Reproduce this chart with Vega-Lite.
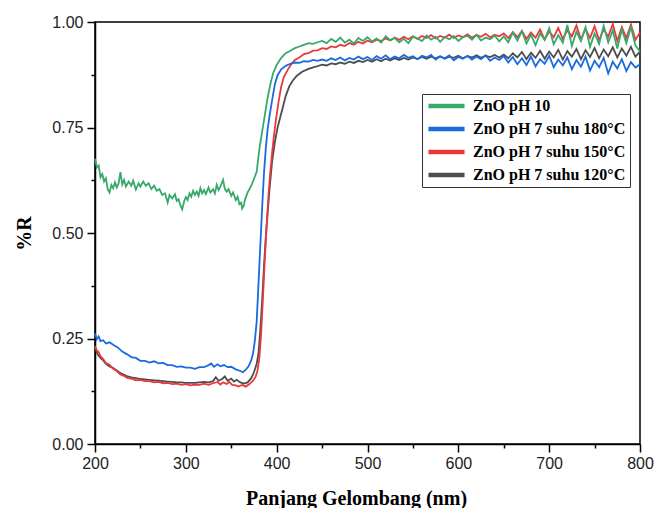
{
  "$schema": "https://vega.github.io/schema/vega-lite/v6.json",
  "width": 545,
  "height": 422,
  "autosize": {"type": "none"},
  "padding": {"left": 95, "top": 22, "right": 15, "bottom": 64},
  "config": {
    "view": {"stroke": "#000", "strokeWidth": 1.5},
    "axis": {
      "grid": false,
      "labelFlush": false,
      "labelFont": "Liberation Sans",
      "labelFontSize": 16,
      "labelColor": "#222",
      "titleFont": "Liberation Serif",
      "titleFontWeight": "bold",
      "titleFontSize": 20,
      "titleColor": "#000"
    },
    "legend": {
      "orient": "none",
      "legendX": 327,
      "legendY": 72,
      "strokeColor": "#333",
      "strokeWidth": 1,
      "fillColor": "#fff",
      "padding": 4,
      "clipHeight": 16,
      "rowPadding": 7,
      "labelOffset": 6,
      "labelFont": "Liberation Serif",
      "labelFontWeight": "bold",
      "labelFontSize": 16,
      "labelColor": "#000",
      "labelLimit": 300
    }
  },
  "encoding": {
    "x": {"field": "w", "type": "quantitative",
      "scale": {"domain": [200, 800], "nice": false},
      "axis": {"values": [200, 250, 300, 350, 400, 450, 500, 550, 600, 650, 700, 750, 800],
        "ticks": true,
        "domainColor": "#000", "domainWidth": 1.5, "tickColor": "#000", "tickWidth": 1.5, "tickOpacity": 1,
        "tickSize": {"condition": {"test": "datum.value % 100 === 0", "value": 8}, "value": 4},
        "labelExpr": "datum.value % 100 === 0 ? datum.label : ''",
        "labelPadding": 3,
        "encode": {"ticks": {"update": {"stroke": {"value": "#000"}, "strokeWidth": {"value": 1.5}, "strokeOpacity": {"value": 1}}}},
        "title": "Panjang Gelombang (nm)", "titleBaseline": "alphabetic", "titleY": 60, "titleX": 261}},
    "y": {"field": "r", "type": "quantitative",
      "scale": {"domain": [0, 1], "nice": false},
      "axis": {"values": [0, 0.125, 0.25, 0.375, 0.5, 0.625, 0.75, 0.875, 1], "format": ".2f",
        "ticks": true,
        "domainColor": "#000", "domainWidth": 1.5, "tickColor": "#000", "tickWidth": 1.5, "tickOpacity": 1,
        "tickSize": {"condition": {"test": "(datum.value * 4) % 1 === 0", "value": 8}, "value": 4},
        "labelExpr": "(datum.value * 4) % 1 === 0 ? datum.label : ''",
        "labelPadding": 4,
        "encode": {"ticks": {"update": {"stroke": {"value": "#000"}, "strokeWidth": {"value": 1.5}, "strokeOpacity": {"value": 1}}}},
        "title": "%R", "titleBaseline": "alphabetic", "titleX": -65}}
  },
  "layer": [
    {
      "data": {"values": [
        {"w":200,"r":0.228},{"w":203,"r":0.212},{"w":206,"r":0.204},{"w":209,"r":0.198},{"w":212,"r":0.190},{"w":216,"r":0.184},{"w":220,"r":0.180},{"w":224,"r":0.174},{"w":228,"r":0.168},{"w":232,"r":0.164},{"w":236,"r":0.160},{"w":240,"r":0.158},{"w":245,"r":0.156},{"w":250,"r":0.154},{"w":255,"r":0.153},{"w":260,"r":0.152},{"w":265,"r":0.151},{"w":270,"r":0.150},{"w":275,"r":0.149},{"w":280,"r":0.148},{"w":285,"r":0.147},{"w":290,"r":0.146},{"w":295,"r":0.146},{"w":300,"r":0.145},{"w":305,"r":0.145},{"w":310,"r":0.145},{"w":315,"r":0.146},{"w":320,"r":0.147},{"w":325,"r":0.146},{"w":330,"r":0.149},{"w":333,"r":0.158},{"w":336,"r":0.150},{"w":340,"r":0.154},{"w":343,"r":0.160},{"w":346,"r":0.150},{"w":350,"r":0.155},{"w":353,"r":0.148},{"w":356,"r":0.152},{"w":360,"r":0.146},{"w":364,"r":0.143},{"w":368,"r":0.146},{"w":372,"r":0.156},{"w":375,"r":0.170},{"w":378,"r":0.190},{"w":380,"r":0.215},{"w":382,"r":0.270},{"w":384,"r":0.340},{"w":386,"r":0.420},{"w":388,"r":0.490},{"w":390,"r":0.545},{"w":392,"r":0.600},{"w":395,"r":0.670},{"w":398,"r":0.715},{"w":401,"r":0.750},{"w":404,"r":0.775},{"w":407,"r":0.800},{"w":410,"r":0.825},{"w":414,"r":0.848},{"w":418,"r":0.862},{"w":422,"r":0.872},{"w":428,"r":0.882},{"w":435,"r":0.889},{"w":443,"r":0.894},
        {"w":450,"r":0.899},{"w":455,"r":0.897},{"w":460,"r":0.902},{"w":465,"r":0.900},{"w":470,"r":0.904},{"w":475,"r":0.901},{"w":480,"r":0.906},{"w":485,"r":0.903},{"w":490,"r":0.908},{"w":495,"r":0.905},{"w":500,"r":0.910},{"w":505,"r":0.906},{"w":510,"r":0.912},{"w":515,"r":0.907},{"w":520,"r":0.913},{"w":525,"r":0.909},{"w":530,"r":0.914},{"w":535,"r":0.910},{"w":540,"r":0.915},{"w":545,"r":0.911},{"w":550,"r":0.916},{"w":555,"r":0.912},{"w":560,"r":0.917},{"w":565,"r":0.913},{"w":570,"r":0.918},{"w":575,"r":0.914},{"w":580,"r":0.919},{"w":585,"r":0.913},{"w":590,"r":0.918},{"w":595,"r":0.915},{"w":600,"r":0.920},{"w":605,"r":0.914},{"w":610,"r":0.919},{"w":615,"r":0.916},{"w":620,"r":0.921},{"w":625,"r":0.915},{"w":630,"r":0.920},{"w":635,"r":0.917},{"w":640,"r":0.922},{"w":645,"r":0.916},{"w":650,"r":0.923},{"w":655,"r":0.914},{"w":660,"r":0.926},{"w":665,"r":0.916},{"w":670,"r":0.929},{"w":675,"r":0.912},{"w":680,"r":0.927},{"w":685,"r":0.915},{"w":690,"r":0.932},{"w":695,"r":0.913},{"w":700,"r":0.930},{"w":705,"r":0.916},{"w":710,"r":0.934},{"w":715,"r":0.911},{"w":720,"r":0.931},{"w":725,"r":0.918},{"w":730,"r":0.936},{"w":735,"r":0.912},{"w":740,"r":0.933},{"w":745,"r":0.917},{"w":750,"r":0.938},{"w":755,"r":0.914},{"w":760,"r":0.935},{"w":765,"r":0.919},{"w":770,"r":0.940},{"w":775,"r":0.916},{"w":780,"r":0.937},{"w":785,"r":0.920},{"w":790,"r":0.941},{"w":795,"r":0.918},{"w":800,"r":0.930}
      ]},
      "mark": {"type": "line", "strokeWidth": 1.8},
      "encoding": {
        "color": {"datum": "ZnO pH 7 suhu 120°C", "type": "nominal",
          "scale": {"domain": ["ZnO pH 10", "ZnO pH 7 suhu 180°C", "ZnO pH 7 suhu 150°C", "ZnO pH 7 suhu 120°C"],
                    "range": ["#38a96a", "#1a6be0", "#e8393c", "#4d4d4d"]},
          "legend": {"title": null, "symbolStrokeWidth": 4.5, "symbolType": "stroke", "symbolSize": 1300}}
      }
    },
    {
      "data": {"values": [
        {"w":200,"r":0.232},{"w":202,"r":0.222},{"w":204,"r":0.218},{"w":206,"r":0.208},{"w":209,"r":0.201},{"w":212,"r":0.192},{"w":216,"r":0.188},{"w":220,"r":0.178},{"w":224,"r":0.173},{"w":228,"r":0.165},{"w":232,"r":0.161},{"w":236,"r":0.156},{"w":240,"r":0.155},{"w":245,"r":0.151},{"w":250,"r":0.152},{"w":255,"r":0.149},{"w":260,"r":0.149},{"w":265,"r":0.146},{"w":270,"r":0.147},{"w":275,"r":0.144},{"w":280,"r":0.145},{"w":285,"r":0.142},{"w":290,"r":0.143},{"w":295,"r":0.140},{"w":300,"r":0.142},{"w":305,"r":0.139},{"w":310,"r":0.141},{"w":315,"r":0.140},{"w":320,"r":0.143},{"w":325,"r":0.140},{"w":330,"r":0.144},{"w":335,"r":0.147},{"w":338,"r":0.141},{"w":341,"r":0.146},{"w":345,"r":0.142},{"w":348,"r":0.147},{"w":351,"r":0.140},{"w":355,"r":0.139},{"w":358,"r":0.136},{"w":362,"r":0.140},{"w":366,"r":0.136},{"w":370,"r":0.142},{"w":374,"r":0.150},{"w":377,"r":0.160},{"w":379,"r":0.175},{"w":381,"r":0.205},{"w":383,"r":0.265},{"w":385,"r":0.350},{"w":387,"r":0.440},{"w":389,"r":0.520},{"w":391,"r":0.590},{"w":393,"r":0.645},{"w":395,"r":0.690},{"w":397,"r":0.730},{"w":399,"r":0.765},{"w":402,"r":0.810},{"w":405,"r":0.847},{"w":408,"r":0.870},{"w":412,"r":0.886},{"w":416,"r":0.900},{"w":420,"r":0.910},{"w":425,"r":0.916},{"w":430,"r":0.924},{"w":435,"r":0.926},{"w":440,"r":0.932},{"w":445,"r":0.933},
        {"w":450,"r":0.938},{"w":455,"r":0.936},{"w":460,"r":0.942},{"w":465,"r":0.940},{"w":470,"r":0.946},{"w":475,"r":0.943},{"w":480,"r":0.950},{"w":485,"r":0.946},{"w":490,"r":0.953},{"w":495,"r":0.949},{"w":500,"r":0.956},{"w":505,"r":0.952},{"w":510,"r":0.958},{"w":515,"r":0.955},{"w":520,"r":0.961},{"w":525,"r":0.956},{"w":530,"r":0.963},{"w":535,"r":0.958},{"w":540,"r":0.965},{"w":545,"r":0.959},{"w":550,"r":0.966},{"w":555,"r":0.960},{"w":560,"r":0.967},{"w":565,"r":0.962},{"w":570,"r":0.969},{"w":575,"r":0.961},{"w":580,"r":0.967},{"w":585,"r":0.963},{"w":590,"r":0.970},{"w":595,"r":0.962},{"w":600,"r":0.968},{"w":605,"r":0.964},{"w":610,"r":0.971},{"w":615,"r":0.963},{"w":620,"r":0.969},{"w":625,"r":0.965},{"w":630,"r":0.972},{"w":635,"r":0.964},{"w":640,"r":0.970},{"w":645,"r":0.966},{"w":650,"r":0.973},{"w":655,"r":0.962},{"w":660,"r":0.976},{"w":665,"r":0.964},{"w":670,"r":0.979},{"w":675,"r":0.960},{"w":680,"r":0.975},{"w":685,"r":0.963},{"w":690,"r":0.982},{"w":695,"r":0.958},{"w":700,"r":0.978},{"w":705,"r":0.964},{"w":710,"r":0.986},{"w":715,"r":0.960},{"w":720,"r":0.980},{"w":725,"r":0.966},{"w":730,"r":0.992},{"w":735,"r":0.958},{"w":740,"r":0.984},{"w":745,"r":0.962},{"w":750,"r":0.990},{"w":755,"r":0.957},{"w":760,"r":0.983},{"w":765,"r":0.965},{"w":770,"r":0.995},{"w":775,"r":0.955},{"w":780,"r":0.988},{"w":785,"r":0.962},{"w":790,"r":0.994},{"w":795,"r":0.958},{"w":800,"r":0.975}
      ]},
      "mark": {"type": "line", "strokeWidth": 1.8},
      "encoding": {
        "color": {"datum": "ZnO pH 7 suhu 150°C", "type": "nominal"}
      }
    },
    {
      "data": {"values": [
        {"w":200,"r":0.262},{"w":202,"r":0.248},{"w":204,"r":0.255},{"w":206,"r":0.244},{"w":209,"r":0.246},{"w":212,"r":0.238},{"w":216,"r":0.241},{"w":220,"r":0.235},{"w":225,"r":0.229},{"w":230,"r":0.219},{"w":235,"r":0.213},{"w":240,"r":0.206},{"w":245,"r":0.204},{"w":250,"r":0.197},{"w":255,"r":0.197},{"w":260,"r":0.193},{"w":265,"r":0.196},{"w":270,"r":0.191},{"w":275,"r":0.192},{"w":280,"r":0.187},{"w":285,"r":0.187},{"w":290,"r":0.183},{"w":295,"r":0.184},{"w":300,"r":0.181},{"w":305,"r":0.181},{"w":310,"r":0.178},{"w":315,"r":0.182},{"w":320,"r":0.182},{"w":325,"r":0.187},{"w":328,"r":0.191},{"w":331,"r":0.183},{"w":335,"r":0.189},{"w":338,"r":0.184},{"w":342,"r":0.187},{"w":346,"r":0.182},{"w":350,"r":0.183},{"w":355,"r":0.177},{"w":360,"r":0.173},{"w":363,"r":0.170},{"w":366,"r":0.176},{"w":369,"r":0.184},{"w":372,"r":0.198},{"w":374,"r":0.215},{"w":376,"r":0.245},{"w":378,"r":0.290},{"w":380,"r":0.380},{"w":382,"r":0.470},{"w":384,"r":0.560},{"w":386,"r":0.640},{"w":388,"r":0.700},{"w":390,"r":0.745},{"w":392,"r":0.775},{"w":395,"r":0.815},{"w":398,"r":0.852},{"w":401,"r":0.874},{"w":405,"r":0.888},{"w":410,"r":0.896},{"w":415,"r":0.901},{"w":420,"r":0.904},{"w":425,"r":0.903},{"w":430,"r":0.907},{"w":435,"r":0.906},{"w":440,"r":0.910},{"w":445,"r":0.908},
        {"w":450,"r":0.911},{"w":455,"r":0.908},{"w":460,"r":0.914},{"w":465,"r":0.910},{"w":470,"r":0.916},{"w":475,"r":0.909},{"w":480,"r":0.915},{"w":485,"r":0.911},{"w":490,"r":0.918},{"w":495,"r":0.912},{"w":500,"r":0.917},{"w":505,"r":0.910},{"w":510,"r":0.919},{"w":515,"r":0.913},{"w":520,"r":0.921},{"w":525,"r":0.912},{"w":530,"r":0.918},{"w":535,"r":0.914},{"w":540,"r":0.922},{"w":545,"r":0.915},{"w":550,"r":0.919},{"w":555,"r":0.912},{"w":560,"r":0.920},{"w":565,"r":0.916},{"w":570,"r":0.922},{"w":575,"r":0.911},{"w":580,"r":0.918},{"w":585,"r":0.914},{"w":590,"r":0.921},{"w":595,"r":0.909},{"w":600,"r":0.917},{"w":605,"r":0.913},{"w":610,"r":0.920},{"w":615,"r":0.911},{"w":620,"r":0.918},{"w":625,"r":0.912},{"w":630,"r":0.921},{"w":635,"r":0.908},{"w":640,"r":0.916},{"w":645,"r":0.910},{"w":650,"r":0.919},{"w":655,"r":0.904},{"w":660,"r":0.917},{"w":665,"r":0.900},{"w":670,"r":0.914},{"w":675,"r":0.898},{"w":680,"r":0.918},{"w":685,"r":0.895},{"w":690,"r":0.912},{"w":695,"r":0.901},{"w":700,"r":0.920},{"w":705,"r":0.893},{"w":710,"r":0.911},{"w":715,"r":0.897},{"w":720,"r":0.916},{"w":725,"r":0.888},{"w":730,"r":0.910},{"w":735,"r":0.894},{"w":740,"r":0.918},{"w":745,"r":0.885},{"w":750,"r":0.908},{"w":755,"r":0.893},{"w":760,"r":0.915},{"w":765,"r":0.878},{"w":770,"r":0.906},{"w":775,"r":0.890},{"w":780,"r":0.912},{"w":785,"r":0.884},{"w":790,"r":0.905},{"w":795,"r":0.892},{"w":800,"r":0.900}
      ]},
      "mark": {"type": "line", "strokeWidth": 1.8},
      "encoding": {
        "color": {"datum": "ZnO pH 7 suhu 180°C", "type": "nominal"}
      }
    },
    {
      "data": {"values": [
        {"w":200,"r":0.676},{"w":202,"r":0.655},{"w":204,"r":0.660},{"w":206,"r":0.632},{"w":208,"r":0.640},{"w":210,"r":0.622},{"w":212,"r":0.630},{"w":214,"r":0.604},{"w":216,"r":0.596},{"w":218,"r":0.614},{"w":220,"r":0.606},{"w":222,"r":0.620},{"w":224,"r":0.608},{"w":226,"r":0.618},{"w":228,"r":0.644},{"w":230,"r":0.615},{"w":232,"r":0.626},{"w":234,"r":0.610},{"w":237,"r":0.622},{"w":240,"r":0.612},{"w":242,"r":0.624},{"w":245,"r":0.603},{"w":248,"r":0.618},{"w":250,"r":0.610},{"w":253,"r":0.622},{"w":256,"r":0.612},{"w":259,"r":0.618},{"w":262,"r":0.604},{"w":265,"r":0.612},{"w":268,"r":0.600},{"w":271,"r":0.604},{"w":274,"r":0.590},{"w":277,"r":0.594},{"w":280,"r":0.572},{"w":282,"r":0.590},{"w":285,"r":0.582},{"w":288,"r":0.592},{"w":290,"r":0.576},{"w":292,"r":0.580},{"w":294,"r":0.566},{"w":296,"r":0.556},{"w":298,"r":0.574},{"w":300,"r":0.585},{"w":302,"r":0.578},{"w":304,"r":0.594},{"w":306,"r":0.586},{"w":308,"r":0.600},{"w":310,"r":0.590},{"w":312,"r":0.598},{"w":314,"r":0.588},{"w":316,"r":0.606},{"w":318,"r":0.594},{"w":320,"r":0.602},{"w":322,"r":0.592},{"w":325,"r":0.608},{"w":327,"r":0.596},{"w":330,"r":0.604},{"w":332,"r":0.594},{"w":334,"r":0.614},{"w":336,"r":0.602},{"w":338,"r":0.610},{"w":341,"r":0.626},{"w":343,"r":0.604},{"w":345,"r":0.598},{"w":347,"r":0.604},{"w":350,"r":0.588},{"w":352,"r":0.596},{"w":355,"r":0.578},{"w":357,"r":0.586},{"w":359,"r":0.568},{"w":361,"r":0.572},{"w":362,"r":0.558},{"w":364,"r":0.566},{"w":365,"r":0.578},{"w":368,"r":0.596},{"w":370,"r":0.604},{"w":372,"r":0.612},{"w":375,"r":0.628},{"w":378,"r":0.645},{"w":381,"r":0.700},{"w":384,"r":0.740},{"w":387,"r":0.780},{"w":390,"r":0.820},{"w":393,"r":0.852},{"w":396,"r":0.878},{"w":400,"r":0.898},{"w":405,"r":0.915},{"w":410,"r":0.926},{"w":415,"r":0.932},{"w":420,"r":0.938},{"w":425,"r":0.942},{"w":430,"r":0.946},{"w":435,"r":0.950},{"w":440,"r":0.948},{"w":445,"r":0.952},
        {"w":450,"r":0.955},{"w":455,"r":0.950},{"w":460,"r":0.960},{"w":465,"r":0.953},{"w":470,"r":0.963},{"w":475,"r":0.951},{"w":480,"r":0.958},{"w":485,"r":0.949},{"w":490,"r":0.962},{"w":495,"r":0.955},{"w":500,"r":0.964},{"w":505,"r":0.954},{"w":510,"r":0.961},{"w":515,"r":0.951},{"w":520,"r":0.966},{"w":525,"r":0.957},{"w":530,"r":0.962},{"w":535,"r":0.952},{"w":540,"r":0.960},{"w":545,"r":0.950},{"w":550,"r":0.965},{"w":555,"r":0.961},{"w":560,"r":0.955},{"w":565,"r":0.968},{"w":570,"r":0.958},{"w":575,"r":0.965},{"w":580,"r":0.953},{"w":585,"r":0.964},{"w":590,"r":0.959},{"w":595,"r":0.967},{"w":600,"r":0.955},{"w":605,"r":0.964},{"w":610,"r":0.967},{"w":615,"r":0.958},{"w":620,"r":0.970},{"w":625,"r":0.956},{"w":630,"r":0.963},{"w":635,"r":0.959},{"w":640,"r":0.968},{"w":645,"r":0.954},{"w":650,"r":0.966},{"w":655,"r":0.952},{"w":660,"r":0.975},{"w":665,"r":0.956},{"w":670,"r":0.978},{"w":675,"r":0.949},{"w":680,"r":0.970},{"w":685,"r":0.945},{"w":690,"r":0.973},{"w":695,"r":0.958},{"w":700,"r":0.985},{"w":705,"r":0.947},{"w":710,"r":0.969},{"w":715,"r":0.951},{"w":720,"r":0.993},{"w":725,"r":0.943},{"w":730,"r":0.977},{"w":735,"r":0.955},{"w":740,"r":0.988},{"w":745,"r":0.941},{"w":750,"r":0.973},{"w":755,"r":0.948},{"w":760,"r":0.991},{"w":765,"r":0.952},{"w":770,"r":0.980},{"w":775,"r":0.937},{"w":780,"r":0.982},{"w":785,"r":0.950},{"w":790,"r":0.988},{"w":795,"r":0.944},{"w":800,"r":0.930}
      ]},
      "mark": {"type": "line", "strokeWidth": 1.8},
      "encoding": {
        "color": {"datum": "ZnO pH 10", "type": "nominal"}
      }
    }
  ]
}
